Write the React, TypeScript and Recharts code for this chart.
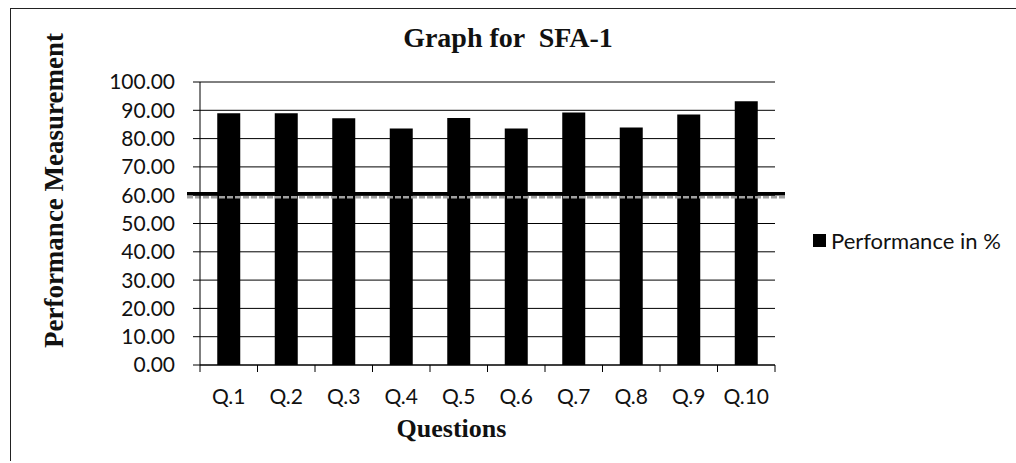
import {
  BarChart,
  Bar,
  XAxis,
  YAxis,
  CartesianGrid,
  Legend,
  ReferenceLine,
} from 'recharts';

const questions = ['Q.1', 'Q.2', 'Q.3', 'Q.4', 'Q.5', 'Q.6', 'Q.7', 'Q.8', 'Q.9', 'Q.10'];
const performance = [89.0, 89.0, 87.2, 83.6, 87.3, 83.6, 89.2, 83.9, 88.5, 93.2];
const yTicks = [0, 10, 20, 30, 40, 50, 60, 70, 80, 90, 100];
const passMark = 60.5;

const data = questions.map((q, i) => ({ question: q, value: performance[i] }));

const serif = '"Liberation Serif", "Times New Roman", serif';
const sans = 'Lato, "Open Sans", sans-serif';

// Excel-style category ticks: marks sit on the boundaries between bars
const QuestionTick = (props: any) => {
  const { x, y, payload, index, width, visibleTicksCount } = props;
  const half = width / visibleTicksCount / 2;
  return (
    <g>
      <line x1={x - half} x2={x - half} y1={y - 7} y2={y} stroke="#000" />
      {index === questions.length - 1 && (
        <line x1={x + half} x2={x + half} y1={y - 7} y2={y} stroke="#000" />
      )}
      <text x={x} y={y + 32} textAnchor="middle" fontFamily={sans} fontSize={21} fill="#111">
        {payload.value}
      </text>
    </g>
  );
};

const PassLine = (p: any) => (
  <g>
    <line x1={p.x1 - 13} x2={p.x2 + 10} y1={p.y1} y2={p.y2} stroke="#000" strokeWidth={3.5} />
    <line
      x1={p.x1 - 13}
      x2={p.x2 + 10}
      y1={p.y1 + 3.5}
      y2={p.y2 + 3.5}
      stroke="#a0a0a0"
      strokeWidth={2.5}
      strokeDasharray="6 2"
    />
  </g>
);

export default function App() {
  return (
    <div style={{ position: 'absolute', left: 0, top: 0, width: 1016, height: 463, background: '#fff' }}>
      <div
        style={{
          position: 'absolute',
          left: 10,
          top: 8,
          width: 1006,
          height: 452,
          borderTop: '1.5px solid #222',
          borderLeft: '1.5px solid #222',
        }}
      />
      <div
        style={{
          position: 'absolute',
          left: 0,
          top: 24,
          width: 1016,
          textAlign: 'center',
          fontFamily: serif,
          fontWeight: 'bold',
          fontSize: 28,
          lineHeight: '27px',
          whiteSpace: 'pre',
          color: '#111',
        }}
      >
        {'Graph for  SFA-1'}
      </div>
      <BarChart
        width={1016}
        height={463}
        data={data}
        margin={{ top: 82, right: 241, left: 20, bottom: 58 }}
        barCategoryGap="30%"
      >
        <CartesianGrid horizontal vertical={false} stroke="#000" strokeWidth={1} />
        <XAxis
          dataKey="question"
          interval={0}
          height={40}
          tickSize={7}
          tickMargin={0}
          tickLine={false}
          axisLine={{ stroke: '#000' }}
          tick={<QuestionTick />}
          label={{
            value: 'Questions',
            content: ({ viewBox }: any) => (
              <text
                x={viewBox.x + viewBox.width / 2 - 36}
                y={viewBox.y + 72}
                textAnchor="middle"
                fontFamily={serif}
                fontWeight="bold"
                fontSize={26}
                fill="#111"
              >
                Questions
              </text>
            ),
          }}
        />
        <YAxis
          width={180}
          domain={[0, 100]}
          ticks={yTicks}
          interval={0}
          tickSize={7}
          tickMargin={18}
          tickFormatter={(v: number) => v.toFixed(2)}
          tick={{ fontFamily: sans, fontSize: 21, fill: '#111' }}
          tickLine={{ stroke: '#000' }}
          axisLine={{ stroke: '#000' }}
          label={{
            value: 'Performance Measurement',
            content: ({ viewBox }: any) => {
              const cx = viewBox.x + 34;
              const cy = viewBox.y + viewBox.height / 2 - 33;
              return (
                <text
                  x={cx}
                  y={cy}
                  transform={`rotate(-90 ${cx} ${cy})`}
                  textAnchor="middle"
                  dominantBaseline="central"
                  fontFamily={serif}
                  fontWeight="bold"
                  fontSize={27}
                  fill="#111"
                >
                  Performance Measurement
                </text>
              );
            },
          }}
        />
        <Legend
          layout="horizontal"
          verticalAlign="middle"
          align="center"
          wrapperStyle={{ left: 813, top: 227, width: 200, height: 24 }}
          content={() => (
            <div style={{ display: 'flex', alignItems: 'center', fontFamily: sans, fontSize: 22, color: '#111', whiteSpace: 'nowrap' }}>
              <span style={{ display: 'inline-block', width: 13, height: 13, background: '#000', marginRight: 5 }} />
              Performance in %
            </div>
          )}
        />
        <Bar dataKey="value" name="Performance in %" fill="#000" isAnimationActive={false} />
        <ReferenceLine y={passMark} shape={<PassLine />} />
      </BarChart>
    </div>
  );
}
